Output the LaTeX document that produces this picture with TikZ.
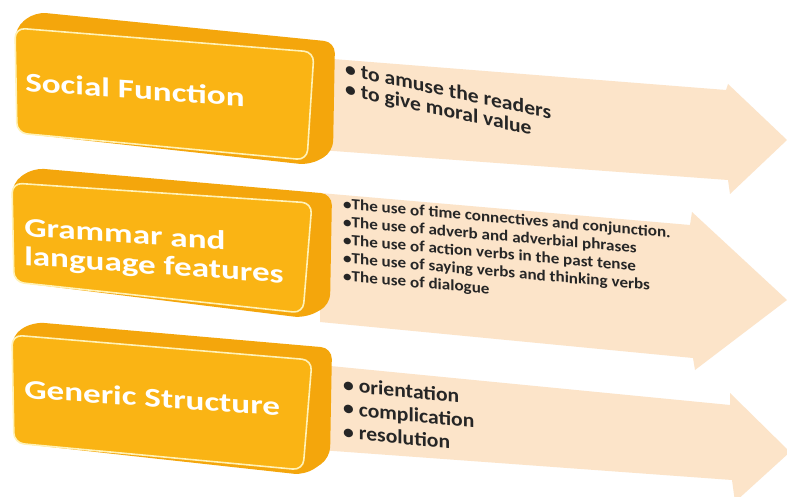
\documentclass[tikz,border=0pt]{standalone}
\usepackage{fontspec}
\setmainfont{Carlito}
\definecolor{faceamber}{HTML}{FAB414}
\definecolor{sideamber}{HTML}{F4A60C}
\definecolor{rimlight}{HTML}{FFF2B8}
\definecolor{arrowpeach}{HTML}{FCE4C9}
\definecolor{bullettext}{HTML}{262626}
\tikzset{
  arrowband/.style={fill=arrowpeach, draw=none},
  blockside/.style={fill=sideamber, draw=none, rounded corners=11pt},
  blockface/.style={fill=faceamber, draw=rimlight, line width=1.6pt, rounded corners=10pt},
  blocktitle/.style={text=white, font=\fontsize{27}{29}\selectfont\bfseries,
     xscale=1.3, yslant=-0.09, anchor=north west, inner sep=0pt, align=left},
  bigitems/.style={text=bullettext, font=\fontsize{20}{23.5}\selectfont\bfseries,
     xscale=1.08, yslant=-0.11, anchor=north west, inner sep=0pt, align=left},
  smallitems/.style={text=bullettext, font=\fontsize{15.5}{18}\selectfont\bfseries,
     xscale=1.1, yslant=-0.097, anchor=north west, inner sep=0pt, align=left}
}
\begin{document}
\begin{tikzpicture}[x=1pt, y=-1pt]
\useasboundingbox (0,0) rectangle (787,497);
\fill[white] (0,0) rectangle (787,497);

% pale arrows behind the blocks
\fill[arrowband] (320,58) -- (726,90) -- (728,84) -- (787,140) -- (730,194) -- (728,180) -- (320,150) -- cycle;
\fill[arrowband] (320,193) -- (690,225) -- (692,212) -- (787,300) -- (695,370) -- (693,358) -- (320,322) -- cycle;
\fill[arrowband] (320,365) -- (730,405) -- (730,393) -- (790,452) -- (735,502) -- (732,480) -- (320,450) -- cycle;

% block 1
\fill[blockside] (15,28) -- (35,12) -- (335,42) -- (333,152) -- (310,165) -- (17,133) -- cycle;
\draw[blockface] (15,28) -- (314,52) -- (307,160) -- (17,133) -- cycle;
% block 2
\fill[blockside] (12,183) -- (33,168) -- (332,194) -- (330,305) -- (305,318) -- (14,282) -- cycle;
\draw[blockface] (12,183) -- (312,203) -- (303,313) -- (14,282) -- cycle;
% block 3
\fill[blockside] (12,335) -- (33,322) -- (332,348) -- (330,458) -- (305,475) -- (14,443) -- cycle;
\draw[blockface] (12,335) -- (312,360) -- (303,470) -- (14,443) -- cycle;

% block titles
\node[blocktitle] (social) at (25,72) {Social Function};
\node[blocktitle] (grammar) at (24,217) {Grammar and\\language features};
\node[blocktitle] (generic) at (24,379) {Generic Structure};

% contents of the arrows
\node[bigitems, font=\fontsize{20}{20}\selectfont\bfseries, yslant=-0.12] (socialitems) at (345,61)
  {• to amuse the readers\\• to give moral value};
\node[smallitems] (grammaritems) at (343,198)
  {•The use of time connectives and conjunction.\\
   •The use of adverb and adverbial phrases\\
   •The use of action verbs in the past tense\\
   •The use of saying verbs and thinking verbs\\
   •The use of dialogue};
\node[bigitems] (genericitems) at (343,377)
  {• orientation\\• complication\\• resolution};
\end{tikzpicture}
\end{document}
